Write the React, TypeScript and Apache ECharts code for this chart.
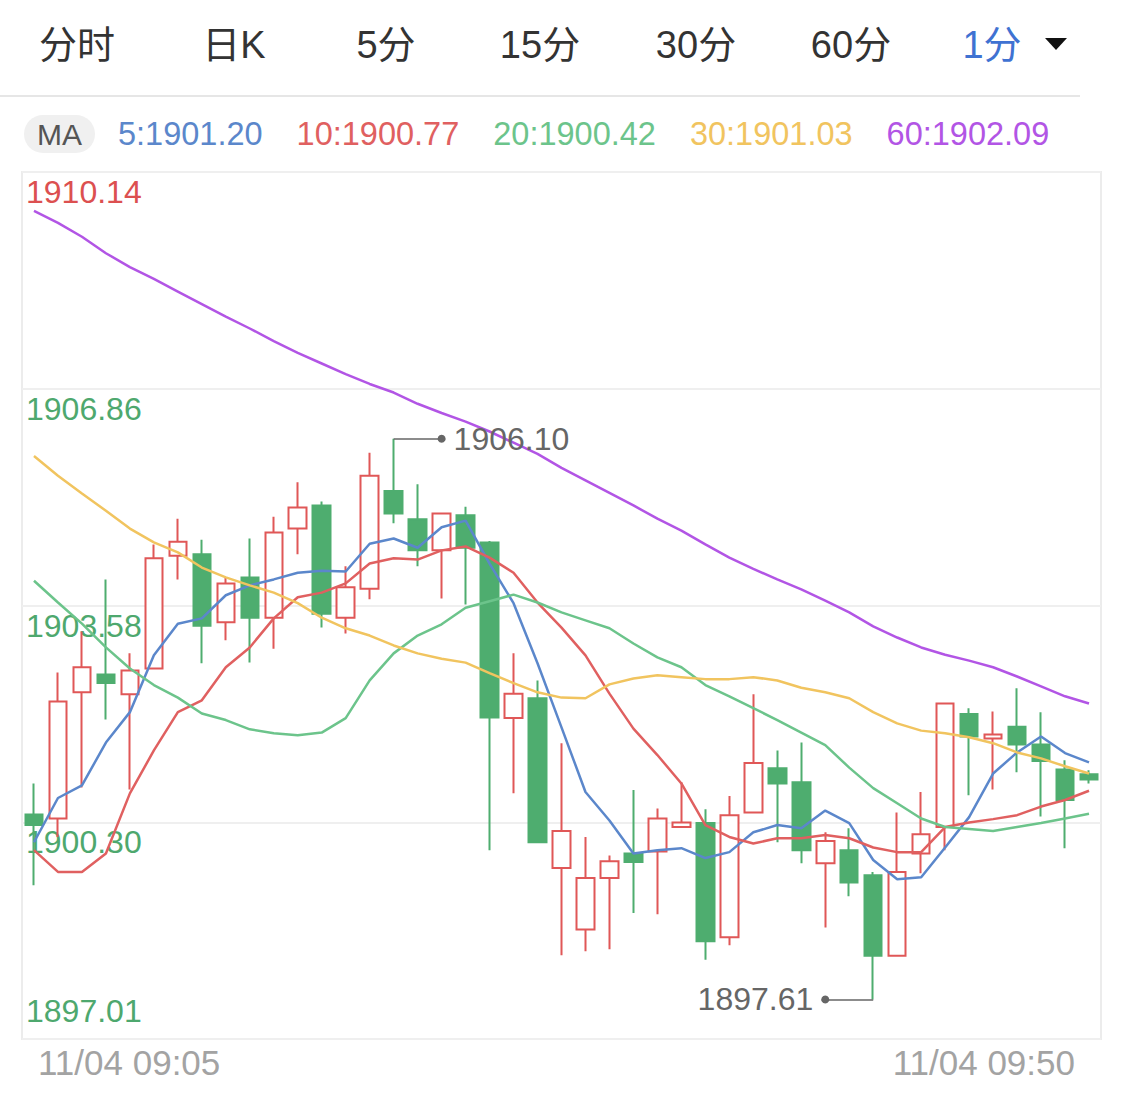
import React, { useEffect, useRef } from "react";
import * as echarts from "echarts";

// ---------- data ----------
const times = [
  "11/04 09:05", "11/04 09:06", "11/04 09:07", "11/04 09:08", "11/04 09:09",
  "11/04 09:10", "11/04 09:11", "11/04 09:12", "11/04 09:13", "11/04 09:14",
  "11/04 09:15", "11/04 09:16", "11/04 09:17", "11/04 09:18", "11/04 09:19",
  "11/04 09:20", "11/04 09:21", "11/04 09:22", "11/04 09:23", "11/04 09:24",
  "11/04 09:25", "11/04 09:26", "11/04 09:27", "11/04 09:28", "11/04 09:29",
  "11/04 09:30", "11/04 09:31", "11/04 09:32", "11/04 09:33", "11/04 09:34",
  "11/04 09:35", "11/04 09:36", "11/04 09:37", "11/04 09:38", "11/04 09:39",
  "11/04 09:40", "11/04 09:41", "11/04 09:42", "11/04 09:43", "11/04 09:44",
  "11/04 09:45", "11/04 09:46", "11/04 09:47", "11/04 09:48", "11/04 09:49",
];

const opens = [1900.41, 1900.35, 1902.26, 1902.53, 1902.23, 1902.62, 1904.33, 1904.35, 1903.32, 1904.00, 1903.39, 1904.74, 1905.09, 1903.39, 1903.83, 1905.31, 1904.88, 1904.41, 1904.94, 1904.53, 1901.87, 1902.17, 1899.60, 1898.67, 1899.45, 1899.82, 1899.85, 1900.22, 1900.28, 1898.55, 1900.44, 1901.11, 1900.90, 1899.67, 1899.87, 1899.49, 1898.27, 1899.82, 1900.22, 1901.93, 1901.56, 1901.74, 1901.47, 1901.09, 1901.02];
const closes = [1900.25, 1902.12, 1902.64, 1902.40, 1902.59, 1904.29, 1904.54, 1903.27, 1903.91, 1903.39, 1904.68, 1905.06, 1903.45, 1903.85, 1905.54, 1904.97, 1904.41, 1904.97, 1904.45, 1901.88, 1902.24, 1899.99, 1900.16, 1899.45, 1899.70, 1899.69, 1900.35, 1900.29, 1898.49, 1900.40, 1901.19, 1900.88, 1899.87, 1900.01, 1899.38, 1898.27, 1899.54, 1900.11, 1902.09, 1901.59, 1901.62, 1901.47, 1901.22, 1900.63, 1900.94];
const lows = [1899.34, 1900.07, 1900.82, 1901.85, 1900.79, 1902.62, 1903.97, 1902.70, 1903.05, 1902.71, 1902.92, 1904.35, 1903.24, 1903.15, 1903.67, 1904.82, 1904.17, 1903.68, 1903.59, 1899.87, 1900.73, 1899.98, 1898.28, 1898.34, 1898.37, 1898.92, 1898.90, 1900.22, 1898.21, 1898.43, 1900.44, 1899.99, 1899.67, 1898.70, 1899.17, 1897.61, 1898.27, 1899.52, 1899.87, 1900.70, 1900.79, 1901.05, 1900.38, 1899.90, 1900.88];
const highs = [1900.88, 1902.56, 1903.18, 1903.97, 1902.85, 1904.50, 1904.89, 1904.57, 1904.00, 1904.59, 1904.92, 1905.44, 1905.15, 1904.17, 1905.89, 1906.10, 1905.41, 1904.98, 1905.07, 1904.55, 1902.85, 1902.44, 1901.49, 1900.07, 1899.79, 1900.78, 1900.50, 1900.90, 1900.49, 1900.69, 1902.23, 1901.38, 1901.50, 1900.14, 1900.20, 1899.54, 1900.44, 1900.75, 1902.09, 1902.02, 1901.97, 1902.32, 1901.96, 1901.23, 1901.08];

const ma5 = [1899.99, 1900.66, 1900.85, 1901.50, 1901.96, 1902.82, 1903.30, 1903.38, 1903.73, 1903.88, 1903.97, 1904.07, 1904.10, 1904.09, 1904.51, 1904.59, 1904.45, 1904.76, 1904.86, 1904.21, 1903.61, 1902.70, 1901.73, 1900.75, 1900.32, 1899.82, 1899.87, 1899.90, 1899.75, 1899.84, 1900.14, 1900.25, 1900.20, 1900.47, 1900.28, 1899.72, 1899.43, 1899.46, 1899.91, 1900.37, 1901.03, 1901.35, 1901.59, 1901.34, 1901.20];
const ma10 = [1899.87, 1899.54, 1899.54, 1899.82, 1900.73, 1901.38, 1901.96, 1902.14, 1902.64, 1902.94, 1903.38, 1903.70, 1903.77, 1903.91, 1904.21, 1904.29, 1904.27, 1904.41, 1904.47, 1904.30, 1904.07, 1903.62, 1903.24, 1902.82, 1902.24, 1901.71, 1901.31, 1900.88, 1900.25, 1900.07, 1899.97, 1900.05, 1900.05, 1900.10, 1900.05, 1899.91, 1899.84, 1899.84, 1900.22, 1900.29, 1900.34, 1900.40, 1900.53, 1900.63, 1900.77];
const ma20 = [1903.95, 1903.62, 1903.30, 1902.94, 1902.62, 1902.37, 1902.18, 1901.94, 1901.84, 1901.70, 1901.64, 1901.61, 1901.65, 1901.87, 1902.44, 1902.85, 1903.12, 1903.29, 1903.54, 1903.64, 1903.74, 1903.62, 1903.47, 1903.35, 1903.23, 1903.00, 1902.79, 1902.64, 1902.37, 1902.20, 1902.02, 1901.84, 1901.65, 1901.46, 1901.12, 1900.81, 1900.58, 1900.35, 1900.22, 1900.19, 1900.16, 1900.22, 1900.28, 1900.35, 1900.42];
const ma30 = [1905.84, 1905.54, 1905.27, 1905.01, 1904.74, 1904.53, 1904.38, 1904.15, 1904.00, 1903.88, 1903.77, 1903.61, 1903.39, 1903.23, 1903.12, 1902.97, 1902.85, 1902.77, 1902.71, 1902.55, 1902.40, 1902.26, 1902.18, 1902.17, 1902.38, 1902.47, 1902.52, 1902.49, 1902.46, 1902.46, 1902.49, 1902.44, 1902.33, 1902.26, 1902.17, 1901.96, 1901.79, 1901.68, 1901.64, 1901.58, 1901.49, 1901.35, 1901.26, 1901.14, 1901.03];
const ma60 = [1909.55, 1909.37, 1909.16, 1908.91, 1908.70, 1908.52, 1908.33, 1908.14, 1907.95, 1907.77, 1907.58, 1907.40, 1907.24, 1907.08, 1906.93, 1906.80, 1906.63, 1906.49, 1906.36, 1906.21, 1906.04, 1905.87, 1905.66, 1905.47, 1905.28, 1905.09, 1904.89, 1904.71, 1904.50, 1904.30, 1904.13, 1903.97, 1903.82, 1903.65, 1903.47, 1903.26, 1903.09, 1902.94, 1902.83, 1902.74, 1902.64, 1902.50, 1902.35, 1902.20, 1902.09];

const yMin = 1897.01;
const yMax = 1910.14;
const yTickLabels = ["1897.01", "1900.30", "1903.58", "1906.86", "1910.14"];
const xEdgeLabels = ["11/04 09:05", "11/04 09:50"];
const tabLabels = ["分时", "日K", "5分", "15分", "30分", "60分", "1分"];

// ---------- style ----------
const FONT = '"Liberation Sans", "Noto Sans CJK SC", Arial, sans-serif';
const UP = "#e05757";
const DOWN = "#4ead6f";
const LABEL_RED = "#dc5050";
const LABEL_GREEN = "#4ea86e";
const maDefs = [
  { name: "MA5", period: 5, data: ma5, color: "#5b87cb" },
  { name: "MA10", period: 10, data: ma10, color: "#e06060" },
  { name: "MA20", period: 20, data: ma20, color: "#6cc48b" },
  { name: "MA30", period: 30, data: ma30, color: "#f1c45f" },
  { name: "MA60", period: 60, data: ma60, color: "#b255e5" },
];
const tabCenters = [77, 234, 386, 540, 696, 851, 992];

export default function App() {
  const ref = useRef<HTMLDivElement>(null);

  useEffect(() => {
    if (!ref.current) return;
    const chart = echarts.init(ref.current, undefined, { renderer: "svg" });

    const kData = opens.map((o, i) => [o, closes[i], lows[i], highs[i]]);
    let maxIdx = 0;
    let minIdx = 0;
    highs.forEach((h, i) => { if (h > highs[maxIdx]) maxIdx = i; });
    lows.forEach((l, i) => { if (l < lows[minIdx]) minIdx = i; });
    const maxV = highs[maxIdx];
    const minV = lows[minIdx];

    const graphic: any[] = [];
    tabLabels.forEach((t, i) => {
      graphic.push({
        type: "text",
        silent: true,
        style: {
          text: t,
          x: tabCenters[i],
          y: 45,
          align: "center",
          verticalAlign: "middle",
          fontSize: 38,
          fontFamily: FONT,
          fill: i === tabLabels.length - 1 ? "#3f72d2" : "#333333",
        },
      });
    });
    graphic.push({
      type: "polygon",
      silent: true,
      shape: { points: [[1045, 38], [1067, 38], [1056, 50]] },
      style: { fill: "#111111" },
    });
    graphic.push({
      type: "line",
      silent: true,
      shape: { x1: 0, y1: 96, x2: 1080, y2: 96 },
      style: { stroke: "#e6e6e6", lineWidth: 2 },
    });
    graphic.push({
      type: "rect",
      silent: true,
      shape: { x: 24, y: 115, width: 71, height: 38, r: 19 },
      style: { fill: "#f0f0f0" },
    });
    graphic.push({
      type: "text",
      silent: true,
      style: {
        text: "MA",
        x: 59.5,
        y: 134,
        align: "center",
        verticalAlign: "middle",
        fontSize: 30,
        fontFamily: FONT,
        fill: "#555555",
      },
    });

    const option: any = {
      animation: false,
      textStyle: { fontFamily: FONT },
      graphic,
      legend: {
        left: 108,
        top: 113,
        icon: "none",
        itemWidth: 0,
        itemHeight: 32,
        itemGap: 29,
        selectedMode: false,
        textStyle: { fontSize: 32.5, fontFamily: FONT },
        data: maDefs.map((m) => ({ name: m.name, textStyle: { color: m.color, fontSize: 32.5 } })),
        formatter: (name: string) => {
          const m = maDefs.find((d) => d.name === name)!;
          return `${m.period}:${m.data[m.data.length - 1].toFixed(2)}`;
        },
      },
      grid: {
        left: 22,
        right: 24,
        top: 172,
        bottom: 67,
        show: true,
        borderColor: "#ececec",
        borderWidth: 2,
      },
      xAxis: [
        {
          type: "category",
          data: times,
          boundaryGap: true,
          position: "bottom",
          axisLine: { show: false },
          axisTick: { show: false },
          axisLabel: { show: false },
          splitLine: { show: false },
        },
        {
          type: "value",
          min: 0,
          max: 1,
          interval: 1,
          position: "bottom",
          axisLine: { show: false },
          axisTick: { show: false },
          splitLine: { show: false },
          axisLabel: {
            formatter: (v: number) => xEdgeLabels[Math.round(v)],
            alignMinLabel: "left",
            alignMaxLabel: "right",
            padding: [0, 26, 0, 16],
            color: "#a3a3a3",
            fontSize: 35,
            margin: 6,
          },
        },
      ],
      yAxis: [
        {
          type: "value",
          min: yMin,
          max: yMax,
          position: "left",
          show: false,
          splitLine: { show: false },
        },
        {
          type: "value",
          min: 0,
          max: 4,
          interval: 1,
          position: "left",
          axisLine: { show: false },
          axisTick: { show: false },
          splitLine: { show: true, lineStyle: { color: "#efefef", width: 2 } },
          axisLabel: {
            inside: true,
            showMinLabel: false,
            margin: 4,
            fontSize: 32,
            verticalAlign: "top",
            padding: [4, 0, 0, 0],
            formatter: (v: number) => yTickLabels[Math.round(v)],
            color: (v: any) => (Math.round(Number(v)) === 4 ? LABEL_RED : LABEL_GREEN),
          },
        },
        {
          type: "value",
          min: 0,
          max: 4,
          interval: 1,
          position: "left",
          axisLine: { show: false },
          axisTick: { show: false },
          splitLine: { show: false },
          axisLabel: {
            inside: true,
            margin: 4,
            fontSize: 32,
            verticalAlign: "bottom",
            padding: [0, 0, 12, 0],
            formatter: (v: number) => (Math.round(v) === 0 ? yTickLabels[0] : ""),
            color: LABEL_GREEN,
          },
        },
      ],
      series: [
        {
          type: "candlestick",
          name: "K",
          xAxisIndex: 0,
          yAxisIndex: 0,
          data: kData,
          barWidth: 18,
          itemStyle: {
            color: "#ffffff",
            color0: DOWN,
            borderColor: UP,
            borderColor0: DOWN,
            borderWidth: 2,
          },
          emphasis: { disabled: true },
          markLine: {
            silent: true,
            animation: false,
            symbol: ["none", "circle"],
            symbolSize: 8,
            lineStyle: { color: "#666666", width: 1.5, type: "solid" },
            label: { show: true, position: "end", color: "#666666", fontSize: 32, distance: 12, fontFamily: FONT },
            emphasis: { disabled: true },
            data: [
              [
                { coord: [maxIdx, maxV], label: { formatter: maxV.toFixed(2) } },
                { coord: [maxIdx + 2, maxV] },
              ],
              [
                { coord: [minIdx, minV], label: { formatter: minV.toFixed(2) } },
                { coord: [minIdx - 2, minV] },
              ],
            ],
          },
        },
        ...maDefs.map((m) => ({
          type: "line",
          name: m.name,
          xAxisIndex: 0,
          yAxisIndex: 0,
          data: m.data,
          showSymbol: false,
          symbol: "none",
          smooth: false,
          lineStyle: { width: 2.5, color: m.color },
          itemStyle: { color: m.color },
          emphasis: { disabled: true },
          z: 3,
        })),
      ],
    };

    chart.setOption(option);
    return () => chart.dispose();
  }, []);

  return (
    <div
      ref={ref}
      style={{ position: "absolute", left: 0, top: 0, width: 1125, height: 1106, background: "#ffffff" }}
    />
  );
}
